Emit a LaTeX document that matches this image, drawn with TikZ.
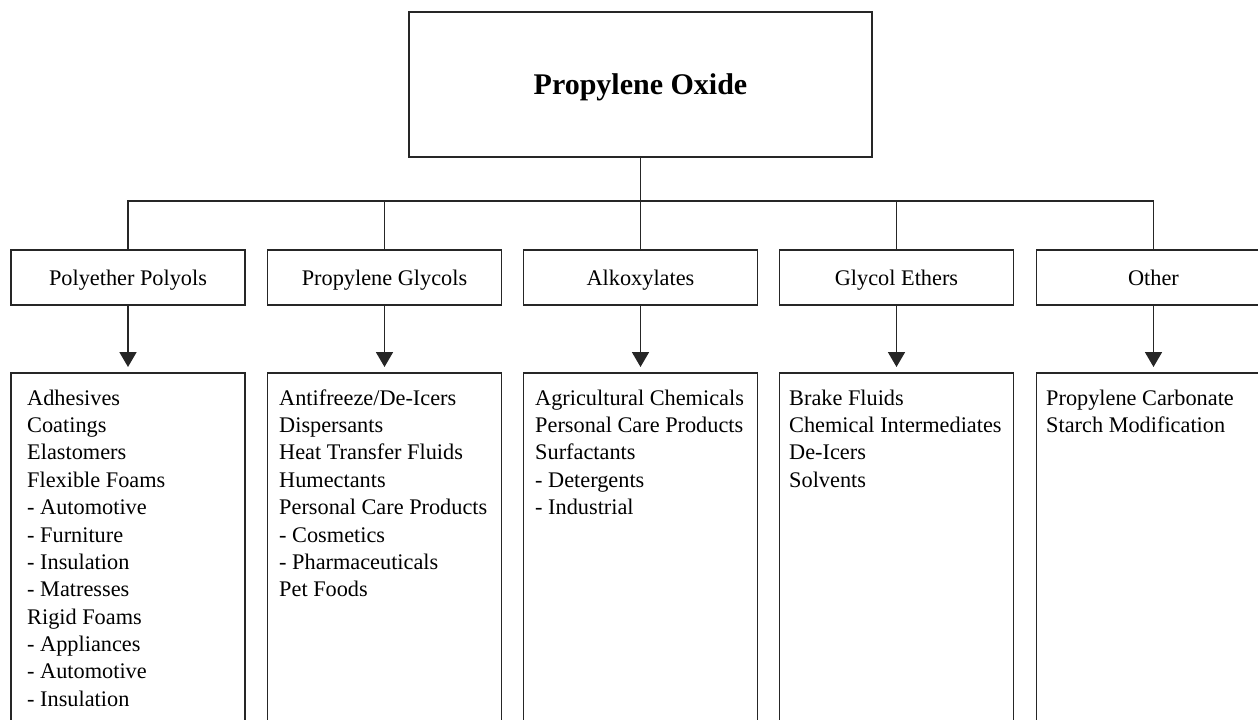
\documentclass[tikz,border=0pt]{standalone}
\usepackage{fontspec}
\setmainfont{Liberation Serif}
\usetikzlibrary{arrows.meta}
\tikzset{
  txtfont/.style={font=\fontsize{22.3}{27.36}\selectfont},
  catbox/.style={draw=black!85, line width=1.8pt, minimum width=234pt, minimum height=55pt, inner sep=0pt, text height=17pt, text depth=2pt, txtfont},
  tallbox/.style={draw=black!85, line width=1.8pt, minimum width=234pt, minimum height=400pt, anchor=north, inner sep=0pt},
  listtext/.style={anchor=north west, align=left, inner sep=0pt, txtfont},
  conn/.style={draw=black!85, line width=1.8pt},
  arr/.style={draw=black!85, line width=1.8pt, -{Triangle[width=17pt,length=15pt]}, shorten >=5pt},
}
\begin{document}
\begin{tikzpicture}[x=1pt,y=-1pt]
\useasboundingbox (0,0) rectangle (1258,720);
\clip (0,0) rectangle (1258,720);

% top box
\node[draw=black!85, line width=1.8pt, minimum width=463pt, minimum height=145pt, inner sep=0pt,
      text height=21pt, text depth=2pt,
      font=\fontsize{30}{36}\selectfont\bfseries] (po) at (640.5,84.5) {Propylene Oxide};

% category boxes
\node[catbox] (pp) at (128,277.5) {Polyether Polyols};
\node[catbox] (pg) at (384.5,277.5) {Propylene Glycols};
\node[catbox] (al) at (640.5,277.5) {Alkoxylates};
\node[catbox] (ge) at (896.5,277.5) {Glycol Ethers};
\node[catbox] (ot) at (1153.5,277.5) {Other};

% branch lines
\coordinate (bar) at (0,201);
\draw[conn] (po.south) -- (po.south |- bar);
\draw[conn] (pp.north) -- (pp.north |- bar) -- (ot.north |- bar) -- (ot.north);
\draw[conn] (pg.north) -- (pg.north |- bar);
\draw[conn] (al.north) -- (al.north |- bar);
\draw[conn] (ge.north) -- (ge.north |- bar);

% list boxes
\node[tallbox] (l1) at (128,372) {};
\node[tallbox] (l2) at (384.5,372) {};
\node[tallbox] (l3) at (640.5,372) {};
\node[tallbox] (l4) at (896.5,372) {};
\node[tallbox] (l5) at (1153.5,372) {};

% arrows
\draw[arr] (pp.south) -- (l1.north);
\draw[arr] (pg.south) -- (l2.north);
\draw[arr] (al.south) -- (l3.north);
\draw[arr] (ge.south) -- (l4.north);
\draw[arr] (ot.south) -- (l5.north);

% list texts
\node[listtext] (t1) at (27,385.85) {\strut Adhesives\\Coatings\\Elastomers\\Flexible Foams\\- Automotive\\- Furniture\\- Insulation\\- Matresses\\Rigid Foams\\- Appliances\\- Automotive\\- Insulation};
\node[listtext] (t2) at (279,385.85) {\strut Antifreeze/De-Icers\\Dispersants\\Heat Transfer Fluids\\Humectants\\Personal Care Products\\- Cosmetics\\- Pharmaceuticals\\Pet Foods};
\node[listtext] (t3) at (535,385.85) {\strut Agricultural Chemicals\\Personal Care Products\\Surfactants\\- Detergents\\- Industrial};
\node[listtext] (t4) at (789,385.85) {\strut Brake Fluids\\Chemical Intermediates\\De-Icers\\Solvents};
\node[listtext] (t5) at (1046,385.85) {\strut Propylene Carbonate\\Starch Modification};
\end{tikzpicture}
\end{document}
